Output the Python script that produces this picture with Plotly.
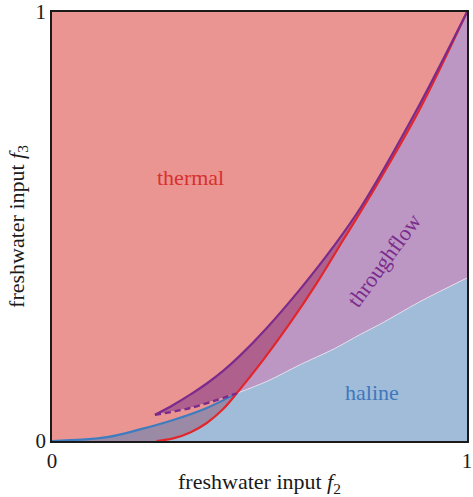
import plotly.graph_objects as go

# boundary curves (f2, f3)
blue_x = [0, 0.133, 0.212, 0.292, 0.373, 0.445]
blue_y = [0, 0.009, 0.027, 0.049, 0.077, 0.111]

red_lo_x = [0.252, 0.292, 0.333, 0.373, 0.413, 0.445]
red_lo_y = [0, 0.006, 0.020, 0.042, 0.075, 0.111]
red_hi_x = [0.445, 0.509, 0.573, 0.638, 0.702, 0.766, 0.88, 1.0]
red_hi_y = [0.111, 0.189, 0.274, 0.368, 0.469, 0.570, 0.762, 1.0]

purple_x = [0.248, 0.292, 0.333, 0.373, 0.413, 0.453, 0.517, 0.598, 0.678, 0.745, 0.875, 1.0]
purple_y = [0.061, 0.084, 0.108, 0.134, 0.164, 0.199, 0.263, 0.354, 0.453, 0.546, 0.765, 1.0]

dash_x = [0.248, 0.333, 0.445]
dash_y = [0.061, 0.077, 0.111]

edge_x = [0.445, 0.52, 0.598, 0.68, 0.742, 0.79, 0.887, 1.0]
edge_y = [0.111, 0.140, 0.178, 0.215, 0.248, 0.272, 0.325, 0.38]

labels = ["thermal", "haline", "throughflow"]
label_x = [0.333, 0.771, 0.80]
label_y = [0.615, 0.114, 0.42]

C_THERMAL = "#EA9591"
C_HALINE = "#A1BCD8"
C_THROUGH = "#BD97C4"
C_BISTABLE = "#B0608C"
C_OVERLAP = "#9B8AA6"
C_PURPLE = "#7A2B8C"
C_RED = "#E2262A"
C_BLUE = "#3E7CC0"
FONT = "Liberation Serif"

rev = lambda a: a[::-1]

fig = go.Figure()


def region(xs, ys, color):
    fig.add_trace(go.Scatter(x=xs, y=ys, fill="toself", fillcolor=color, mode="none",
                             hoverinfo="skip", showlegend=False))


# thermal: everything above purple curve / dashed / blue
region([0, 0, 1] + rev(purple_x) + dash_x[1:] + rev(blue_x)[1:],
       [0, 1, 1] + rev(purple_y) + dash_y[1:] + rev(blue_y)[1:], C_THERMAL)
# haline
region(red_lo_x + edge_x[1:] + [1], red_lo_y + edge_y[1:] + [0], C_HALINE)
# thermal + haline overlap
region(blue_x + rev(red_lo_x)[1:], blue_y + rev(red_lo_y)[1:], C_OVERLAP)
# throughflow
region(red_hi_x + rev(edge_x), red_hi_y + rev(edge_y), C_THROUGH)
# thermal + throughflow overlap
region(purple_x + rev(red_hi_x)[1:] + rev(dash_x)[1:],
       purple_y + rev(red_hi_y)[1:] + rev(dash_y)[1:], C_BISTABLE)


def curve(xs, ys, color, width=2.2, dash=None):
    fig.add_trace(go.Scatter(x=xs, y=ys, mode="lines", hoverinfo="skip", showlegend=False,
                             line=dict(color=color, width=width, dash=dash, shape="spline",
                                       smoothing=1)))


curve(edge_x, edge_y, "#E8E6F0", width=0.8)
curve(blue_x, blue_y, C_BLUE)
curve(red_lo_x + red_hi_x[1:], red_lo_y + red_hi_y[1:], C_RED)
curve(dash_x, dash_y, C_PURPLE, width=2.4, dash="6px,4px")
curve(purple_x, purple_y, C_PURPLE)

for txt, x, y, col, ang in zip(labels, label_x, label_y, ["#D8302F", "#3E78BC", C_PURPLE], [0, 0, -54]):
    fig.add_annotation(x=x, y=y, text=txt, showarrow=False, textangle=ang,
                       font=dict(family=FONT, size=22, color=col))

axis = dict(range=[0, 1], tickvals=[0, 1], ticktext=["0", "1"], showgrid=False, zeroline=False,
            showline=True, mirror=True, linecolor="#1a1a1a", linewidth=1.6, ticks="",
            tickfont=dict(family=FONT, size=21, color="#1a1a1a"))

fig.update_layout(
    width=473, height=497,
    margin=dict(l=52, r=6, t=12, b=56, autoexpand=False),
    plot_bgcolor="white", paper_bgcolor="white",
    xaxis=dict(axis, title=dict(text="freshwater input <i>f</i><sub>2</sub>",
                                font=dict(family=FONT, size=22, color="#1a1a1a"), standoff=4)),
    yaxis=dict(axis, title=dict(text="freshwater input <i>f</i><sub>3</sub>",
                                font=dict(family=FONT, size=22, color="#1a1a1a"), standoff=5)),
)

fig.write_html("out.html", config={"displayModeBar": False},
               post_script="document.body.style.margin='0';")
